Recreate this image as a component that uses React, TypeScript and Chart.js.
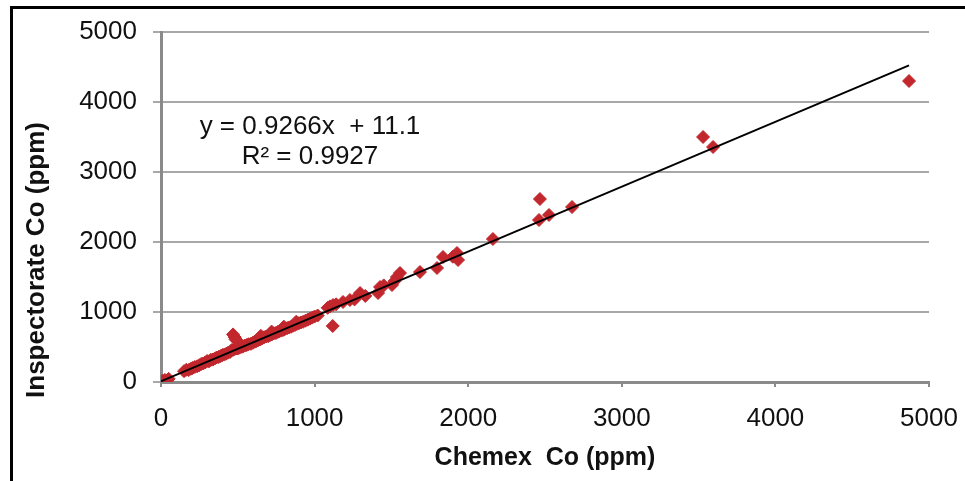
import React, { useEffect, useRef } from "react";
import { Chart, registerables } from "chart.js";

Chart.register(...registerables);

// Chemex Co (ppm) – x values
const chemexCo = [
  0, 8, 18, 25, 40, 50,
  150, 165, 180, 195, 205, 220, 235, 250, 262, 275, 288, 300, 312, 325, 338, 350, 362, 375, 388, 400,
  412, 425, 438, 450, 460, 470, 480, 490, 500, 510, 520, 532, 545, 558, 570, 585, 598, 610, 622, 635,
  648, 660, 672, 685, 698, 710, 722, 735, 748, 760, 772, 785, 798, 810, 822, 835, 848, 860, 872, 885,
  898, 910, 925, 940, 955, 970, 985, 1000, 1020,
  650, 720, 800, 880,
  469, 480, 495, 485,
  1085, 1100, 1120, 1140, 1118, 1185, 1230, 1296, 1260, 1330,
  1413, 1426, 1450, 1504, 1536, 1556, 1520, 1686, 1797, 1836, 1927, 1934, 1900,
  2161, 2467, 2461, 2526, 2676, 3529, 3594, 4870,
];

// Inspectorate Co (ppm) – y values
const inspectorateCo = [
  0, 15, 5, 30, 22, 45,
  155, 175, 170, 190, 200, 215, 225, 240, 258, 265, 280, 300, 295, 318, 320, 335, 350, 358, 370, 385,
  392, 405, 420, 430, 455, 460, 470, 480, 478, 490, 500, 505, 520, 528, 540, 545, 560, 575, 585, 600,
  610, 625, 640, 650, 655, 670, 680, 695, 700, 715, 725, 735, 745, 760, 770, 780, 790, 805, 815, 830,
  840, 850, 860, 875, 890, 905, 920, 935, 950,
  660, 720, 790, 860,
  680, 640, 590, 610,
  1060, 1080, 1100, 1110, 800, 1143, 1171, 1271, 1180, 1230,
  1271, 1357, 1380, 1386, 1500, 1557, 1440, 1571, 1629, 1786, 1843, 1743, 1790,
  2043, 2614, 2314, 2386, 2500, 3500, 3357, 4300,
];

const axisTicks = [0, 1000, 2000, 3000, 4000, 5000];
const trendSlope = 0.9266;
const trendIntercept = 11.1;
const equationLines = ["y = 0.9266x  + 11.1", "R\u00B2 = 0.9927"];
const xTitle = "Chemex  Co (ppm)";
const yTitle = "Inspectorate Co (ppm)";

const FONT = '"Liberation Sans", Arial, sans-serif';

export default function App() {
  const canvasRef = useRef<HTMLCanvasElement | null>(null);

  useEffect(() => {
    document.body.style.margin = "0";
    const canvas = canvasRef.current;
    if (!canvas) return;

    const points = chemexCo.map((x, i) => ({ x, y: inspectorateCo[i] }));
    const xMin = Math.min(...chemexCo);
    const xMax = Math.max(...chemexCo);
    const trend = [
      { x: xMin, y: trendSlope * xMin + trendIntercept },
      { x: xMax, y: trendSlope * xMax + trendIntercept },
    ];

    const textPlugin = {
      id: "textLabels",
      afterDatasetsDraw(chart: any) {
        const { ctx, scales } = chart;
        const cx = scales.x.getPixelForValue(970);
        ctx.save();
        ctx.font = `26px ${FONT}`;
        ctx.fillStyle = "#111";
        ctx.textAlign = "center";
        ctx.textBaseline = "middle";
        ctx.fillText(equationLines[0], cx, scales.y.getPixelForValue(3640));
        ctx.fillText(equationLines[1], cx, scales.y.getPixelForValue(3210));
        ctx.restore();
      },
      afterDraw(chart: any) {
        const { ctx } = chart;
        ctx.save();
        ctx.translate(37, 260);
        ctx.rotate(-Math.PI / 2);
        ctx.font = `bold 26px ${FONT}`;
        ctx.fillStyle = "#111";
        ctx.textAlign = "center";
        ctx.textBaseline = "middle";
        ctx.fillText(yTitle, 0, 0);
        ctx.restore();
      },
    };

    const chart = new Chart(canvas, {
      type: "scatter",
      data: {
        datasets: [
          {
            type: "line",
            data: trend,
            borderColor: "#000",
            borderWidth: 2,
            pointRadius: 0,
            showLine: true,
            order: 0,
          } as any,
          {
            data: points,
            pointStyle: "rectRot",
            pointRadius: 6.5,
            pointBackgroundColor: "#c1272d",
            pointBorderColor: "#c1272d",
            pointBorderWidth: 1,
            order: 1,
          },
        ],
      },
      options: {
        responsive: false,
        animation: false,
        devicePixelRatio: 1,
        layout: { padding: { top: 32, right: 36, left: 0, bottom: 0 } },
        plugins: { legend: { display: false }, tooltip: { enabled: false } },
        scales: {
          x: {
            type: "linear",
            min: 0,
            max: 5000,
            afterFit: (s: any) => {
              s.height = 99;
              s.paddingLeft = 0;
              s.paddingRight = 0;
            },
            afterBuildTicks: (s: any) => {
              s.ticks = axisTicks.map((v) => ({ value: v }));
            },
            grid: {
              drawOnChartArea: false,
              drawTicks: true,
              tickLength: 5,
              color: "#8a8a8a",
              lineWidth: 2,
            },
            border: { color: "#8a8a8a", width: 3 },
            ticks: {
              padding: 16,
              color: "#111",
              font: { family: FONT, size: 26 },
              maxRotation: 0,
              callback: (v: any) => String(v),
            },
            title: {
              display: true,
              text: xTitle,
              color: "#111",
              font: { family: FONT, size: 25, weight: "bold", lineHeight: 1.2 },
              padding: { top: 0, bottom: 8 },
            },
          },
          y: {
            type: "linear",
            min: 0,
            max: 5000,
            afterFit: (s: any) => {
              s.width = 161;
              s.paddingTop = 0;
              s.paddingBottom = 0;
            },
            afterBuildTicks: (s: any) => {
              s.ticks = axisTicks.map((v) => ({ value: v }));
            },
            grid: {
              drawTicks: true,
              tickLength: 8,
              color: "#a8a8a8",
              lineWidth: 2,
            },
            border: { color: "#8a8a8a", width: 3 },
            ticks: {
              padding: 16,
              color: "#111",
              font: { family: FONT, size: 26 },
              callback: (v: any) => String(v),
            },
            title: { display: false },
          },
        },
      },
      plugins: [textPlugin],
    });

    return () => chart.destroy();
  }, []);

  return (
    <div style={{ position: "absolute", left: 0, top: 0, width: 965, height: 481, background: "#fff" }}>
      <canvas ref={canvasRef} width={965} height={481} style={{ position: "absolute", left: 0, top: 0 }} />
      <div
        style={{
          position: "absolute",
          left: 10,
          top: 6,
          width: 955,
          height: 475,
          borderTop: "3px solid #000",
          borderLeft: "3px solid #000",
          boxSizing: "border-box",
          pointerEvents: "none",
        }}
      />
    </div>
  );
}
